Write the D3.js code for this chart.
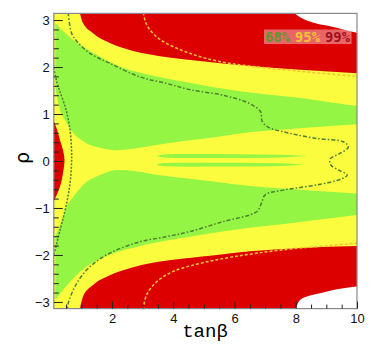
<!DOCTYPE html>
<html><head><meta charset="utf-8">
<script src="https://cdn.jsdelivr.net/npm/d3@7"></script>
<style>body{margin:0;background:#fff}</style>
</head><body>
<script>
const PI = Math.PI;
// x ticks / y ticks
const xTicks = [2,4,6,8,10];
const yTicks = [-3,-2,-1,0,1,2,3];
// Region boundaries [tanβ, ρ]
const redTopEdge = [[0.955,PI],[1.05,2.94],[1.38,2.72],[1.93,2.51],[2.69,2.34],[3.8,2.21],[4.87,2.13],[6.51,2.02],[8.14,1.94],[10,1.87]];
const redBottomEdge = [[0.955,-PI],[1.05,-2.89],[1.38,-2.64],[1.93,-2.43],[2.69,-2.26],[3.8,-2.12],[4.87,-2.04],[6.51,-1.92],[8.14,-1.85],[10,-1.81]];
const whiteTopEdge = [[7.97,PI],[8.14,3.06],[8.36,2.99],[8.7,2.92],[9.12,2.87],[9.55,2.8],[10,2.73]];
const whiteBottomEdge = [[8.0,-PI],[8.14,-2.96],[8.5,-2.86],[8.9,-2.8],[9.34,-2.73],[10,-2.67]];
// green bands: [tanβ, upper ρ, lower ρ]
const greenUpper = [[0.15,2.93,1.58],[0.2,2.9,1.38],[0.3,2.83,1.1],[0.5,2.71,0.83],[0.73,2.58,0.6],[1.06,2.43,0.42],[1.61,2.22,0.28],[2.15,2.04,0.23],[2.8,1.9,0.27],[3.24,1.83,0.32],[4.4,1.68,0.43],[5.42,1.56,0.51],[6.5,1.46,0.61],[7.8,1.37,0.68],[10,1.17,0.78]];
const greenLower = [[0.15,-1.6,-2.95],[0.24,-1.47,-2.88],[0.36,-1.26,-2.78],[0.52,-0.97,-2.65],[0.74,-0.76,-2.5],[1.06,-0.51,-2.3],[1.61,-0.3,-2.08],[2.15,-0.19,-1.94],[2.8,-0.22,-1.83],[3.24,-0.27,-1.76],[4.55,-0.38,-1.61],[5.5,-0.45,-1.51],[6.5,-0.53,-1.42],[7.48,-0.58,-1.35],[10,-0.69,-1.15]];
const stripeUpper = [[3.45,0.105,0.105],[3.7,0.14,0.075],[4.5,0.148,0.062],[6,0.145,0.062],[7.5,0.135,0.075],[8.4,0.105,0.105]];
const stripeLower = [[3.45,-0.08,-0.08],[3.7,-0.045,-0.11],[4.5,-0.036,-0.12],[6,-0.038,-0.118],[7.5,-0.05,-0.105],[8.25,-0.078,-0.08]];
// left red lens: [ρ, tanβ right edge]
const redLeft = [[0.85,0.1],[0.66,0.21],[0.45,0.3],[0.23,0.4],[0.02,0.45],[-0.26,0.4],[-0.55,0.3],[-0.7,0.21],[-0.85,0.1]];
// contour curves
const green68Long = [[0.57,3.16],[0.68,2.72],[0.85,2.55],[1.28,2.29],[1.93,2.08],[2.91,1.79],[3.79,1.65],[4.6,1.51],[5.63,1.4],[6.5,1.22],[6.85,1.05],[6.9,0.85],[7.1,0.72],[7.81,0.59],[8.68,0.48],[9.55,0.41],[9.72,0.3],[9.44,0.16],[9.12,0.04],[9.15,-0.09],[9.39,-0.19],[9.68,-0.3],[9.5,-0.38],[8.68,-0.51],[7.59,-0.62],[7.0,-0.72],[6.88,-0.9],[6.72,-1.08],[5.63,-1.29],[4.55,-1.5],[3.79,-1.61],[2.91,-1.72],[1.93,-1.96],[1.28,-2.25],[0.85,-2.6],[0.57,-3.03],[0.54,-3.16]];
const green68Left = [[0.08,2.06],[0.2,1.68],[0.3,1.48],[0.5,1.09],[0.63,0.66],[0.68,0.23],[0.68,-0.05],[0.63,-0.47],[0.52,-0.9],[0.36,-1.33],[0.25,-1.61],[0.08,-2.06]];
const yellow95Top = [[3.02,3.16],[3.1,2.95],[3.24,2.79],[3.5,2.62],[3.79,2.5],[4.55,2.29],[5.42,2.13],[6.5,2.02],[8.14,1.91],[10,1.8]];
const yellow95Bottom = [[3.02,-3.16],[3.13,-2.85],[3.46,-2.57],[4.0,-2.35],[4.87,-2.18],[5.96,-2.04],[7.59,-1.89],[10,-1.75]];
const legendLabels = ["68%","95%","99%"];

const W=391,H=347;
const svg=d3.select("body").append("svg").attr("width",W).attr("height",H);
const x=d3.scaleLinear().domain([0.1,10]).range([53.8,357]);
const y=d3.scaleLinear().domain([-PI,PI]).range([308.6,13.4]);
const RED="#dc0000",YEL="#fcfc3e",GRN="#94f544";

svg.append("defs").append("clipPath").attr("id","cp").append("rect")
  .attr("x",x(0.1)).attr("y",y(PI)).attr("width",x(10)-x(0.1)).attr("height",y(-PI)-y(PI));
const g=svg.append("g").attr("clip-path","url(#cp)");

g.append("rect").attr("x",x(0.1)).attr("y",y(PI)).attr("width",x(10)-x(0.1)).attr("height",y(-PI)-y(PI)).attr("fill",YEL);

const areaTop=d3.area().x(d=>x(d[0])).y0(d=>y(d[1])).y1(y(PI)).curve(d3.curveMonotoneX);
const areaBot=d3.area().x(d=>x(d[0])).y0(d=>y(d[1])).y1(y(-PI)).curve(d3.curveMonotoneX);
const band=d3.area().x(d=>x(d[0])).y0(d=>y(d[1])).y1(d=>y(d[2])).curve(d3.curveMonotoneX);
const lens=d3.area().y(d=>y(d[0])).x0(x(0.1)).x1(d=>x(d[1])).curve(d3.curveMonotoneY);

g.append("path").attr("d",areaTop(redTopEdge)).attr("fill",RED);
g.append("path").attr("d",areaBot(redBottomEdge)).attr("fill",RED);
g.append("path").attr("d",lens(redLeft.slice().reverse())).attr("fill",RED);
g.append("path").attr("d",band(greenUpper)).attr("fill",GRN);
g.append("path").attr("d",band(greenLower)).attr("fill",GRN);
g.append("path").attr("d",band(stripeUpper)).attr("fill",GRN);
g.append("path").attr("d",band(stripeLower)).attr("fill",GRN);
g.append("path").attr("d",areaTop(whiteTopEdge)).attr("fill","#fff");
g.append("path").attr("d",areaBot(whiteBottomEdge)).attr("fill","#fff");

const ln=d3.line().x(d=>x(d[0])).y(d=>y(d[1])).curve(d3.curveCatmullRom);
g.append("path").attr("d",ln(yellow95Top)).attr("fill","none").attr("stroke","#f2c23a").attr("stroke-width",1.5).attr("stroke-dasharray","3,2");
g.append("path").attr("d",ln(yellow95Bottom)).attr("fill","none").attr("stroke","#f2c23a").attr("stroke-width",1.5).attr("stroke-dasharray","3,2");
g.append("path").attr("d",ln(green68Long)).attr("fill","none").attr("stroke","#4c8030").attr("stroke-width",1.5).attr("stroke-dasharray","4,2,1.5,2");
g.append("path").attr("d",ln(green68Left)).attr("fill","none").attr("stroke","#4c8030").attr("stroke-width",1.5).attr("stroke-dasharray","2,1.5");

// legend
const lg=svg.append("g");
lg.append("rect").attr("x",264).attr("y",29.5).attr("width",87.5).attr("height",14.5).attr("fill","#ffffff").attr("opacity",0.4);
const lcol=["#5a9a2e","#f2c23a","#a0101e"];
legendLabels.forEach((t,i)=>{
  lg.append("text").attr("x",265+i*30).attr("y",41.8).text(t)
    .attr("font-family","DejaVu Sans Mono").attr("font-weight","bold").attr("font-size",14)
    .attr("textLength",25).attr("lengthAdjust","spacingAndGlyphs").attr("fill",lcol[i]);
});

// frame
svg.append("rect").attr("x",x(0.1)).attr("y",y(PI)).attr("width",x(10)-x(0.1)).attr("height",y(-PI)-y(PI))
  .attr("fill","none").attr("stroke","#888").attr("stroke-width",1.2);

// axes
const font="Liberation Sans, Arial, sans-serif";
const xMinor=d3.range(0.5,10,0.5).filter(v=>xTicks.indexOf(v)<0);
const yMinor=d3.range(-3.0,3.15,0.2).map(v=>Math.round(v*10)/10).filter(v=>yTicks.indexOf(v)<0);
const xa=svg.append("g").attr("transform",`translate(0,${y(-PI)})`);
xa.call(d3.axisBottom(x).tickValues(xTicks).tickSize(-7).tickPadding(5).tickFormat(d3.format("d")));
xa.append("g").call(d3.axisBottom(x).tickValues(xMinor).tickSize(-4).tickFormat(""));
const ya=svg.append("g").attr("transform",`translate(${x(0.1)},0)`);
ya.call(d3.axisLeft(y).tickValues(yTicks).tickSize(-9).tickPadding(4).tickFormat(d=>d<0?"\u2212"+(-d):d));
ya.append("g").call(d3.axisLeft(y).tickValues(yMinor).tickSize(-5).tickFormat(""));
svg.selectAll(".domain").remove();
svg.selectAll(".tick line").attr("stroke","#222");
svg.selectAll(".tick text").attr("font-family",font).attr("font-size",13).attr("fill","#111");

svg.append("text").attr("x",205).attr("y",337).attr("text-anchor","middle")
  .attr("font-family","Liberation Mono, Courier New, monospace").attr("font-size",19).text("tanβ");
svg.append("text").attr("transform","translate(29,158) rotate(-90)").attr("text-anchor","middle")
  .attr("font-family","DejaVu Sans").attr("font-size",19).text("ρ");
</script>
</body></html>
